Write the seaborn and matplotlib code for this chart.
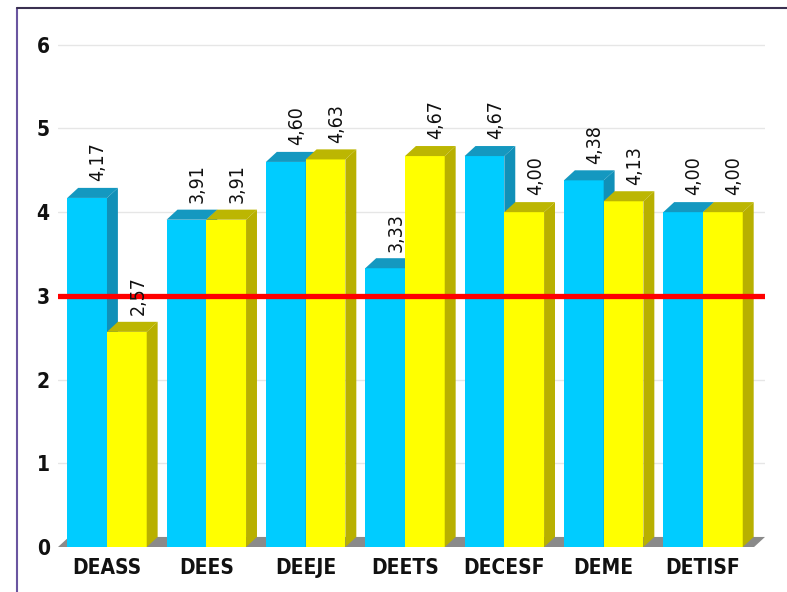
import numpy as np
import pandas as pd
import matplotlib
matplotlib.use('Agg')
import matplotlib.pyplot as plt
import seaborn as sns
from matplotlib.patches import Polygon, Rectangle
from matplotlib.lines import Line2D

# Datos
categorias = ['DEASS', 'DEES', 'DEEJE', 'DEETS', 'DECESF', 'DEME', 'DETISF']
serie_azul = [4.17, 3.91, 4.60, 3.33, 4.67, 4.38, 4.00]
serie_amarilla = [2.57, 3.91, 4.63, 4.67, 4.00, 4.13, 4.00]
referencia = 3
y_ticks = [0, 1, 2, 3, 4, 5, 6]

df = pd.DataFrame({
    'categoria': categorias * 2,
    'valor': serie_azul + serie_amarilla,
    'serie': ['azul'] * len(categorias) + ['amarilla'] * len(categorias),
})

sns.set_style('white')
plt.rcParams['font.family'] = ['DejaVu Sans']
plt.rcParams['font.stretch'] = 'condensed'
plt.rcParams['font.weight'] = 'bold'

colores_frente = {'azul': '#00ccff', 'amarilla': '#ffff00'}
colores_lado = {'azul': '#1190b8', 'amarilla': '#b8b000'}
colores_tapa = {'azul': '#1498c0', 'amarilla': '#bcb602'}

fig = plt.figure(figsize=(7.87, 5.92), dpi=100)
ax = fig.add_axes([58 / 787, 45 / 592, 707 / 787, 519 / 592])

sns.barplot(data=df, x='categoria', y='valor', hue='serie', order=categorias,
            hue_order=['azul', 'amarilla'], palette=colores_frente, saturation=1,
            width=0.8, linewidth=0, legend=False, ax=ax)

barras = sorted([p for p in ax.patches if isinstance(p, Rectangle) and p.get_height() > 0],
                key=lambda p: p.get_x())

ax.set_xlim(-0.493, 6.624)
ax.set_ylim(0, 6.2)

# profundidad 3D (en unidades de datos)
dx = 0.11
dy = 0.12

# suelo gris
x0, x1 = ax.get_xlim()
ax.add_patch(Polygon([(x0, 0), (x0 + dx, dy), (x1, dy), (x1 - dx, 0)],
                     closed=True, facecolor='#8a8a8a', edgecolor='none', zorder=1.5))

# rejilla
for t in y_ticks[1:]:
    ax.axhline(t, color='#e6e6e6', lw=1, zorder=0.5)

for i, p in enumerate(barras):
    xl = p.get_x()
    w = p.get_width()
    h = p.get_height()
    serie = 'azul' if p.get_facecolor()[2] > 0.5 else 'amarilla'
    z = 2 + i * 0.1
    p.set_zorder(z)
    # cara superior
    ax.add_patch(Polygon([(xl, h), (xl + dx, h + dy), (xl + w + dx, h + dy), (xl + w, h)],
                         closed=True, facecolor=colores_tapa[serie], edgecolor='none', zorder=z))
    # cara lateral
    ax.add_patch(Polygon([(xl + w, 0), (xl + w, h), (xl + w + dx, h + dy), (xl + w + dx, dy)],
                         closed=True, facecolor=colores_lado[serie], edgecolor='none', zorder=z))
    etiqueta = f'{h:.2f}'.replace('.', ',')
    ax.text(xl + w / 2 + dx, h + dy + 0.08, etiqueta, rotation=90, ha='center', va='bottom',
            fontsize=14, fontweight='normal', color='#111111', zorder=10)

# línea de referencia
ax.axhline(referencia, color='#ff0000', lw=3.8, zorder=5)

ax.set_yticks(y_ticks)
ax.set_yticklabels([str(t) for t in y_ticks], fontsize=15, color='#111111')
ax.tick_params(axis='x', labelsize=15, colors='#111111', length=0, pad=8)
ax.tick_params(axis='y', length=0, pad=6)
ax.set_xlabel('')
ax.set_ylabel('')
for s in ax.spines.values():
    s.set_visible(False)

# marco de la figura
fig.add_artist(Line2D([17 / 787, 17 / 787], [0, 1 - 8 / 592], color='#6a55a0', lw=1.5))
fig.add_artist(Line2D([17 / 787, 1], [1 - 8 / 592, 1 - 8 / 592], color='#3a3050', lw=1.5))

fig.savefig('out.png', dpi=100)
plt.close(fig)
